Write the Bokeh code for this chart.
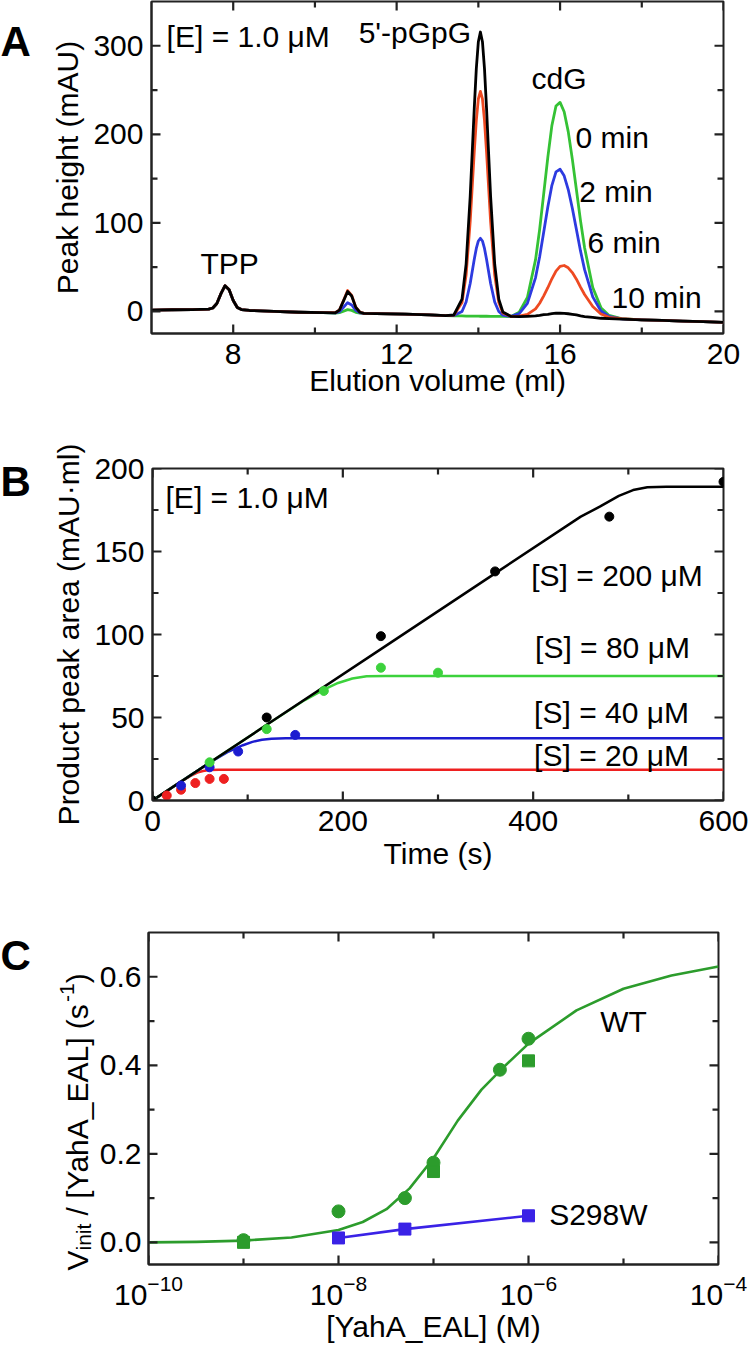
import math
from bokeh.plotting import figure
from bokeh.layouts import column, row
from bokeh.models import (Range1d, FixedTicker, Label, NumeralTickFormatter)
from bokeh.embed import file_html
from bokeh.resources import INLINE

# ---------------- DATA ----------------
# Panel A: chromatograms (elution volume in ml, peak height in mAU)
elution_ml = [6.0, 6.5, 7.0, 7.4, 7.5, 7.6, 7.7, 7.8, 7.9, 8.0, 8.1, 8.2, 8.4, 9.0, 9.6, 10.2,
              10.5, 10.6, 10.7, 10.8, 10.9, 11.0, 11.1, 11.2,
              11.5, 12.2, 12.8, 13.2, 13.4,
              13.6, 13.7, 13.8, 13.9, 13.95, 14.0, 14.05, 14.1, 14.15, 14.2, 14.3, 14.4, 14.5, 14.6, 14.8,
              15.0, 15.2, 15.4, 15.5, 15.6, 15.7, 15.8, 15.9, 16.0, 16.1, 16.2, 16.3, 16.4, 16.5, 16.6,
              16.8, 17.0, 17.2, 17.5,
              18.0, 18.5, 19.0, 19.5, 20.0]
trace_0min = [1.5, 1.8, 2.0, 2.6, 3.8, 8.9, 20.0, 29.0, 24.5, 12.3, 4.4, 2.0, 1.0, 0.0, -1.0, -1.5,
              -2.0, -1.5, 0.2, 1.9, 1.1, -1.0, -1.9, -2.3,
              -2.6, -3.2, -4.0, -4.8, -5.0,
              -5.2, -5.3, -5.3, -5.4, -5.4, -5.4, -5.5, -5.5, -5.5, -5.5, -5.6, -5.6, -5.7, -5.7, -5.8,
              -1.0, 15.7, 58.4, 92.5, 133.0, 174.0, 210.0, 232.0, 236.0, 225.5, 203.0, 172.0, 137.4, 102.5, 71.8,
              27.0, 4.2, -4.6, -8.3,
              -9.5, -10.2, -11.0, -11.6, -12.5]
trace_2min = [1.5, 1.8, 2.0, 2.6, 3.8, 8.9, 20.0, 29.0, 24.5, 12.3, 4.4, 2.0, 1.0, 0.0, -1.0, -1.5,
              -1.8, -0.4, 4.6, 9.8, 7.2, 1.1, -1.6, -2.2,
              -2.6, -3.2, -4.0, -4.8, -4.7,
              -0.2, 10.6, 31.5, 58.9, 71.1, 79.5, 82.5, 79.5, 71.1, 58.9, 31.5, 10.6, -0.2, -4.2, -5.7,
              -2.5, 9.0, 38.2, 61.7, 89.6, 117.8, 142.4, 157.6, 160.5, 153.1, 137.6, 116.5, 92.5, 68.3, 47.1,
              16.4, 0.4, -5.6, -8.5,
              -9.5, -10.2, -11.0, -11.6, -12.5]
trace_6min = [1.5, 1.8, 2.0, 2.6, 3.8, 8.9, 20.0, 29.0, 24.5, 12.3, 4.4, 2.0, 1.0, 0.0, -1.0, -1.5,
              -1.5, 1.6, 12.3, 23.5, 18.0, 4.8, -0.9, -2.2,
              -2.6, -3.2, -4.0, -4.8, -4.3,
              9.9, 41.0, 101.4, 180.4, 215.7, 239.9, 248.5, 239.9, 215.7, 180.4, 101.4, 41.0, 9.9, -1.7, -5.7,
              -5.5, -3.3, 2.9, 9.2, 17.5, 26.7, 36.8, 45.5, 50.8, 51.8, 49.2, 43.8, 36.4, 27.4, 19.1,
              5.5, -2.9, -6.7, -8.3,
              -9.5, -10.2, -11.0, -11.6, -12.5]
trace_10min = [1.5, 1.8, 2.0, 2.6, 3.8, 8.9, 20.0, 29.0, 24.5, 12.3, 4.4, 2.0, 1.0, 0.0, -1.0, -1.5,
               -1.6, 1.4, 11.8, 22.5, 17.3, 4.5, -1.0, -2.2,
               -2.6, -3.2, -4.0, -4.8, -4.1,
               13.9, 53.2, 129.6, 229.5, 274.1, 304.6, 315.5, 304.6, 274.1, 229.5, 129.6, 53.2, 13.9, -0.7, -5.7,
               -6.0, -5.6, -5.2, -4.5, -3.6, -3.3, -2.6, -2.1, -2.0, -2.2, -2.7, -3.3, -4.0, -5.2, -5.9,
               -6.8, -7.8, -8.2, -8.7,
               -9.5, -10.2, -11.0, -11.6, -12.5]

# Panel B: product peak area vs time
t_s200 = [0, 120, 240, 360, 480, 600]
area_s200 = [0, 50, 99, 138, 171, 192]
t_s80 = [0, 60, 120, 180, 240, 300]
area_s80 = [0, 23, 43, 66, 80, 77]
t_s40 = [0, 30, 60, 90, 150]
area_s40 = [0, 9, 20, 29.5, 39.5]
t_s20 = [15, 30, 45, 60, 75]
area_s20 = [3, 6.5, 10.5, 13, 13]
fit_t_s200 = [0, 120, 240, 360, 450, 470, 490, 505, 520, 540, 600]
fit_s200 = [0, 45.6, 91.2, 136.8, 171.0, 177.0, 183.5, 187.0, 188.7, 189.0, 189.0]
fit_t_s80 = [0, 120, 160, 180, 195, 210, 225, 245, 600]
fit_s80 = [0, 45.6, 60.5, 66.8, 70.8, 73.5, 74.8, 75.0, 75.0]
fit_t_s40 = [0, 60, 80, 95, 105, 115, 125, 140, 600]
fit_s40 = [0, 22.8, 29.5, 33.3, 35.3, 36.6, 37.2, 37.5, 37.5]
fit_t_s20 = [0, 30, 40, 47, 53, 60, 70, 600]
fit_s20 = [0, 11.4, 14.8, 16.8, 17.8, 18.3, 18.5, 18.5]

# Panel C: Vinit/[E] vs [YahA_EAL]
wt_conc_circ = [1e-9, 1e-8, 5e-8, 1e-7, 5e-7, 1e-6]
wt_rate_circ = [0.005, 0.07, 0.10, 0.18, 0.39, 0.46]
wt_conc_sq = [1e-9, 1e-7, 1e-6]
wt_rate_sq = [0.0, 0.16, 0.41]
s298w_conc = [1e-8, 5e-8, 1e-6]
s298w_rate = [0.01, 0.03, 0.06]
wt_fit_conc = [1e-10, 3.2e-10, 1e-9, 3.2e-9, 1e-8, 1.8e-8, 3.2e-8, 5.6e-8, 1e-7, 1.8e-7,
               3.2e-7, 5.6e-7, 1e-6, 3.2e-6, 1e-5, 3.2e-5, 1e-4]
wt_fit_rate = [0.000, 0.001, 0.004, 0.011, 0.028, 0.046, 0.075, 0.122, 0.19, 0.275,
               0.345, 0.398, 0.449, 0.524, 0.573, 0.603, 0.623]

# tick values (labelled majors and unlabelled minors)
ticks_A_x, minor_A_x = [8, 12, 16, 20], [10, 14, 18]
ticks_A_y, minor_A_y = [0, 100, 200, 300], [50, 150, 250]
ticks_B_x, minor_B_x = [0, 200, 400, 600], [100, 300, 500]
ticks_B_y, minor_B_y = [0, 50, 100, 150, 200], [25, 75, 125, 175]
ticks_C_x, minor_C_x = [1e-10, 1e-8, 1e-6, 1e-4], [1e-9, 1e-7, 1e-5]
ticks_C_y, minor_C_y = [0.0, 0.2, 0.4, 0.6], [0.1, 0.3, 0.5]

# ---------------- STYLE ----------------
FONT = "Liberation Sans"
FS = "30px"
GREEN_A = "#35c235"
BLUE_A = "#2d3be0"
RED_A = "#ee4a22"
GREEN_B = "#3cd23c"
BLUE_B = "#1c1cd0"
RED_B = "#ee2020"
GREEN_C = "#2c9c2c"
BLUE_C = "#3a22e6"
FRAME_COL = "#222222"
W = 750
TICK_MAJOR, TICK_MINOR, TICK_W = 9, 6, 2.2


def style_axis(ax):
    ax.axis_line_color = FRAME_COL
    ax.axis_line_width = 2
    ax.major_tick_in = 0
    ax.major_tick_out = 0
    ax.minor_tick_in = 0
    ax.minor_tick_out = 0
    ax.major_tick_line_color = None
    ax.minor_tick_line_color = None
    ax.major_label_text_font = FONT
    ax.major_label_text_font_size = FS
    ax.major_label_text_color = "black"
    ax.axis_label_text_font = FONT
    ax.axis_label_text_font_size = FS
    ax.axis_label_text_font_style = "normal"
    ax.axis_label_text_color = "black"


def make_fig(h, xr, yr, frame, canvas_left, canvas_top, x_log=False):
    L, R, T, B = frame
    p = figure(width=W - canvas_left, height=h, x_range=Range1d(*xr), y_range=Range1d(*yr),
               x_axis_type="log" if x_log else "linear",
               output_backend="svg", toolbar_location=None, title=None,
               frame_align=False,
               min_border_left=L - canvas_left, min_border_right=W - R,
               min_border_top=T - canvas_top, min_border_bottom=canvas_top + h - B)
    p.xgrid.visible = False
    p.ygrid.visible = False
    p.outline_line_color = FRAME_COL
    p.outline_line_width = 2
    style_axis(p.below[0])
    style_axis(p.left[0])
    return p


def make_side(w, h):
    # pixel-coordinate side panel (x right, y down) for panel letters and composed labels
    s = figure(width=w, height=h, x_range=Range1d(0, w), y_range=Range1d(h, 0),
               output_backend="svg", toolbar_location=None, title=None,
               frame_align=False,
               x_axis_location=None, y_axis_location=None,
               min_border_left=0, min_border_right=0, min_border_top=0, min_border_bottom=0)
    s.xgrid.visible = False
    s.ygrid.visible = False
    s.outline_line_color = None
    return s


def inner_ticks(p, xr, yr, frame, xmaj, xmin, ymaj, ymin, x_log=False):
    # inward tick marks on all four sides of the frame
    L, R, T, B = frame
    fw, fh = R - L, B - T
    dy = (yr[1] - yr[0]) / fh

    def xstep(x0, px):
        if x_log:
            return x0 * 10 ** (px * (math.log10(xr[1]) - math.log10(xr[0])) / fw)
        return x0 + px * (xr[1] - xr[0]) / fw

    x0s, y0s, x1s, y1s = [], [], [], []
    for vals, ln in [(xmaj, TICK_MAJOR), (xmin, TICK_MINOR)]:
        for v in vals:
            x0s += [v, v]
            x1s += [v, v]
            y0s += [yr[0], yr[1]]
            y1s += [yr[0] + ln * dy, yr[1] - ln * dy]
    for vals, ln in [(ymaj, TICK_MAJOR), (ymin, TICK_MINOR)]:
        for v in vals:
            x0s += [xr[0], xr[1]]
            x1s += [xstep(xr[0], ln), xstep(xr[1], -ln)]
            y0s += [v, v]
            y1s += [v, v]
    p.segment(x0=x0s, y0=y0s, x1=x1s, y1=y1s, line_color=FRAME_COL, line_width=TICK_W)


def label(p, x, y, text, size=FS, align="left", baseline="middle", bold=False, angle=0.0):
    p.add_layout(Label(x=x, y=y, text=text, text_font=FONT, text_font_size=size,
                       text_align=align, text_baseline=baseline,
                       text_font_style="bold" if bold else "normal",
                       angle=angle, angle_units="rad", text_color="black"))


# ---------------- PANEL A ----------------
HA, TOPA, SIDEA = 410, 0, 44
frameA = (151, 723, 1, 333)
xrA, yrA = (6, 20), (-25, 350)
pA = make_fig(HA, xrA, yrA, frameA, SIDEA, TOPA)
pA.below[0].ticker = FixedTicker(ticks=ticks_A_x)
pA.left[0].ticker = FixedTicker(ticks=ticks_A_y)
pA.below[0].axis_label = "Elution volume (ml)"
pA.left[0].axis_label = "Peak height (mAU)"
pA.below[0].major_label_standoff = 10
pA.below[0].axis_label_standoff = -3
pA.left[0].major_label_standoff = 8
pA.left[0].axis_label_standoff = 6

for ys, col in [(trace_0min, GREEN_A), (trace_2min, BLUE_A), (trace_6min, RED_A), (trace_10min, "black")]:
    pA.line(elution_ml, ys, line_color=col, line_width=2.8, line_join="round")
inner_ticks(pA, xrA, yrA, frameA, ticks_A_x, minor_A_x, ticks_A_y, minor_A_y)

label(pA, 6.37, 310.5, "[E] = 1.0 \u03bcM")
label(pA, 11.07, 315, "5'-pGpG")
label(pA, 15.30, 263, "cdG")
label(pA, 16.38, 196, "0 min")
label(pA, 16.47, 135, "2 min")
label(pA, 16.67, 78, "6 min")
label(pA, 17.26, 16, "10 min")
label(pA, 7.20, 54, "TPP")
sA = make_side(SIDEA, HA)
label(sA, 0, 41 - TOPA, "A", size="42px", baseline="alphabetic", bold=True)

# ---------------- PANEL B ----------------
HB, TOPB, SIDEB = 474, 410, 44
frameB = (152, 723, 468, 800)
xrB, yrB = (0, 600), (0, 200)
pB = make_fig(HB, xrB, yrB, frameB, SIDEB, TOPB)
pB.below[0].ticker = FixedTicker(ticks=ticks_B_x)
pB.left[0].ticker = FixedTicker(ticks=ticks_B_y)
pB.below[0].axis_label = "Time (s)"
pB.left[0].axis_label = "Product peak area (mAU\u00b7ml)"
pB.below[0].major_label_standoff = 10
pB.below[0].axis_label_standoff = 3
pB.left[0].major_label_standoff = 8
pB.left[0].axis_label_standoff = 6

for tt, yy, col in [(fit_t_s20, fit_s20, RED_B), (fit_t_s40, fit_s40, BLUE_B),
                    (fit_t_s80, fit_s80, GREEN_B), (fit_t_s200, fit_s200, "black")]:
    pB.line(tt, yy, line_color=col, line_width=2.5, line_join="round")
for tt, yy, col in [(t_s20, area_s20, RED_B), (t_s40, area_s40, BLUE_B),
                    (t_s80, area_s80, GREEN_B), (t_s200, area_s200, "black")]:
    pB.scatter(tt, yy, marker="circle", size=9, fill_color=col, line_color=col)
inner_ticks(pB, xrB, yrB, frameB, ticks_B_x, minor_B_x, ticks_B_y, minor_B_y)

label(pB, 13.7, 182.7, "[E] = 1.0 \u03bcM")
label(pB, 398, 135.5, "[S] = 200 \u03bcM")
label(pB, 402, 92.4, "[S] = 80 \u03bcM")
label(pB, 401, 53.2, "[S] = 40 \u03bcM")
label(pB, 401, 27.1, "[S] = 20 \u03bcM")
sB = make_side(SIDEB, HB)
label(sB, 0, 481 - TOPB, "B", size="42px", baseline="alphabetic", bold=True)

# ---------------- PANEL C ----------------
HC, TOPC, SIDEC = 468, 884, 96
frameC = (148, 718, 932, 1264)
xrC, yrC = (1e-10, 1e-4), (-0.05, 0.7)
pC = make_fig(HC, xrC, yrC, frameC, SIDEC, TOPC, x_log=True)
pC.below[0].ticker = FixedTicker(ticks=ticks_C_x)
pC.left[0].ticker = FixedTicker(ticks=ticks_C_y)
pC.left[0].formatter = NumeralTickFormatter(format="0.0")
pC.below[0].axis_label = "[YahA_EAL] (M)"
pC.below[0].major_label_standoff = 10
pC.below[0].axis_label_standoff = 2
pC.left[0].major_label_standoff = 7

pC.line(wt_fit_conc, wt_fit_rate, line_color=GREEN_C, line_width=2.6, line_join="round")
pC.line(s298w_conc, s298w_rate, line_color=BLUE_C, line_width=2.6)
pC.scatter(wt_conc_circ, wt_rate_circ, marker="circle", size=13, fill_color=GREEN_C, line_color=GREEN_C)
pC.scatter(wt_conc_sq, wt_rate_sq, marker="square", size=12, fill_color=GREEN_C, line_color=GREEN_C)
pC.scatter(s298w_conc, s298w_rate, marker="square", size=12, fill_color=BLUE_C, line_color=BLUE_C)
inner_ticks(pC, xrC, yrC, frameC, ticks_C_x, minor_C_x, ticks_C_y, minor_C_y, x_log=True)

label(pC, 5.7e-6, 0.50, "WT")
label(pC, 1.65e-6, 0.064, "S298W")
sC = make_side(SIDEC, HC)
label(sC, 0, 955 - TOPC, "C", size="42px", baseline="alphabetic", bold=True)
# rotated y-axis label composed of pieces (main text, subscript, superscript)
rot = math.pi / 2
label(sC, 77, 1270 - TOPC, "V", baseline="alphabetic", angle=rot)
label(sC, 83, 1250 - TOPC, "init", size="21px", baseline="alphabetic", angle=rot)
label(sC, 77, 1214.9 - TOPC, "/ [YahA_EAL] (s", baseline="alphabetic", angle=rot)
label(sC, 66, 1001.4 - TOPC, "-1", size="21px", baseline="alphabetic", angle=rot)
label(sC, 77, 982.7 - TOPC, ")", baseline="alphabetic", angle=rot)

layout = column(row(sA, pA, spacing=0), row(sB, pB, spacing=0), row(sC, pC, spacing=0), spacing=0)
open("out.html", "w").write(file_html(layout, INLINE))
